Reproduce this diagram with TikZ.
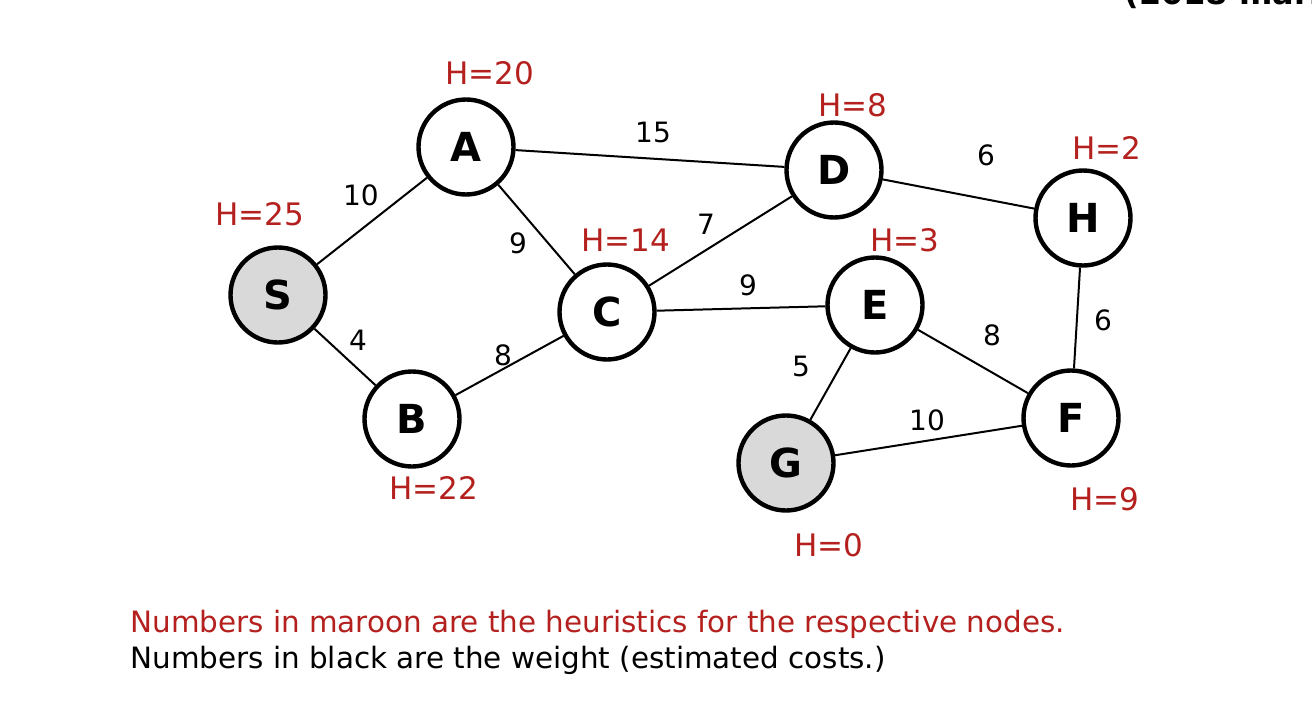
\documentclass[tikz,border=0pt]{standalone}
\usepackage{fontspec}
\setmainfont{DejaVu Sans}
\definecolor{maroon}{RGB}{180,32,30}
\definecolor{nodegray}{RGB}{217,217,217}
\begin{document}
\begin{tikzpicture}[x=0.5pt,y=-0.5pt,
  vert/.style={circle,draw=black,line width=2.2pt,fill=white,minimum size=47.5pt,inner sep=0pt,font=\fontsize{20}{24}\selectfont\bfseries},
  goal/.style={vert,fill=nodegray},
  hlab/.style={text=maroon,font=\fontsize{15.5}{18}\selectfont,inner sep=0pt},
  wlab/.style={text=black,font=\fontsize{14}{17}\selectfont,inner sep=0pt},
  edge/.style={line width=1pt,black}]
\useasboundingbox (0,0) rectangle (1312,712);
\clip (0,0) rectangle (1312,712);
\node[anchor=base west,inner sep=0pt,font=\fontsize{16}{19}\selectfont\bfseries] (top) at (1124,4) {(2018 marks)};
% vertices
\node[goal] (S) at (278,295) {S};
\node[vert] (A) at (466,147) {A};
\node[vert] (B) at (412,419) {B};
\node[vert] (C) at (607,312) {C};
\node[vert] (D) at (834,170) {D};
\node[vert] (E) at (875,305) {E};
\node[vert] (F) at (1071,418) {F};
\node[goal] (G) at (786,463) {G};
\node[vert] (H) at (1083,218) {H};
% edges
\draw[edge] (S) -- (A);
\draw[edge] (S) -- (B);
\draw[edge] (A) -- (D);
\draw[edge] (A) -- (C);
\draw[edge] (B) -- (C);
\draw[edge] (C) -- (D);
\draw[edge] (C) -- (E);
\draw[edge] (D) -- (H);
\draw[edge] (E) -- (G);
\draw[edge] (E) -- (F);
\draw[edge] (G) -- (F);
\draw[edge] (H) -- (F);
% weights
\node[wlab] (w1) at (653,132) {15};
\node[wlab] (w2) at (986,155) {6};
\node[wlab] (w3) at (361,195) {10};
\node[wlab] (w4) at (518,243) {9};
\node[wlab] (w5) at (706,224) {7};
\node[wlab] (w6) at (748,285) {9};
\node[wlab] (w7) at (358,340) {4};
\node[wlab] (w8) at (503,355) {8};
\node[wlab] (w9) at (801,366) {5};
\node[wlab] (w10) at (992,335) {8};
\node[wlab] (w11) at (1103,320) {6};
\node[wlab] (w12) at (927,420) {10};
% heuristics
\node[hlab] (hA) at (490,73) {H=20};
\node[hlab] (hD) at (853,105) {H=8};
\node[hlab] (hH) at (1107,148) {H=2};
\node[hlab] (hS) at (260,214) {H=25};
\node[hlab] (hC) at (626,240) {H=14};
\node[hlab] (hE) at (905,240) {H=3};
\node[hlab] (hB) at (434,488) {H=22};
\node[hlab] (hG) at (829,545) {H=0};
\node[hlab] (hF) at (1105,499) {H=9};
% legend
\node[anchor=west,inner sep=0pt,text=maroon,font=\fontsize{14.7}{17}\selectfont] (l1) at (130,624) {Numbers in maroon are the heuristics for the respective nodes.};
\node[anchor=west,inner sep=0pt,text=black,font=\fontsize{14.7}{17}\selectfont] (l2) at (130,660) {Numbers in black are the weight (estimated costs.)};
\end{tikzpicture}
\end{document}
